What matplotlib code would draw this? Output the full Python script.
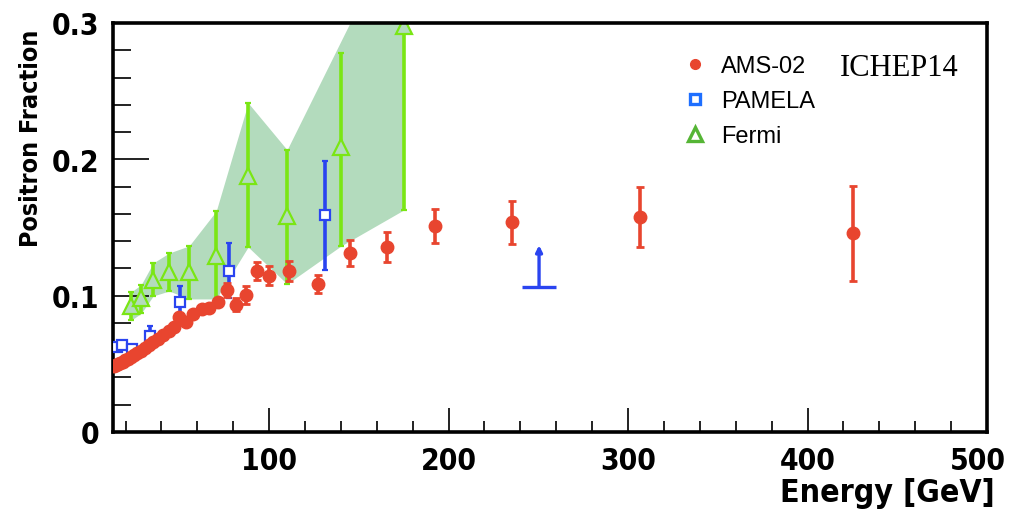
import matplotlib
matplotlib.use('Agg')
import matplotlib.pyplot as plt
from matplotlib import font_manager
from matplotlib.font_manager import FontProperties
from matplotlib.lines import Line2D
from matplotlib.ticker import MultipleLocator, FixedLocator
from matplotlib.transforms import ScaledTranslation

# look for a narrow/condensed bold sans (ROOT uses Helvetica bold condensed-ish)
narrow_path = None
for f in font_manager.fontManager.ttflist:
    narrowish = ('Narrow' in f.name or 'Condensed' in f.name
                 or 'condensed' in str(f.stretch))
    if narrowish and f.weight in ('bold', 700, 'semibold', 600) and 'Mono' not in f.name \
            and 'Serif' not in f.name:
        narrow_path = f.fname
        break

if narrow_path:
    bold_font = dict(fname=narrow_path)
    tick_size, ylab_size, xlab_size = 21.5, 18, 23
else:
    bold_font = dict(family='Liberation Sans', weight='bold')
    tick_size, ylab_size, xlab_size = 20, 17, 21

# AMS-02 positron fraction
ams_e = [13.5, 14.6, 15.8, 17.0, 18.3, 19.7, 21.2, 22.8, 24.6, 26.5, 28.5, 30.7,
         33.0, 35.5, 38.2, 41.0, 44.0, 46.8, 49.9, 53.8, 57.7, 62.7, 66.6, 71.6,
         76.6, 81.6, 87.2, 93.3, 100.0, 111.0, 127.3, 145.1, 165.7, 192.5, 235.4,
         306.7, 425.3]
ams_v = [0.0484, 0.0491, 0.0499, 0.0507, 0.0516, 0.0526, 0.0537, 0.0548, 0.0562,
         0.0578, 0.0595, 0.0614, 0.0636, 0.0660, 0.0685, 0.0712, 0.0740, 0.0768,
         0.0840, 0.0807, 0.0866, 0.0900, 0.0910, 0.0954, 0.1040, 0.0935, 0.1005,
         0.1180, 0.1145, 0.1180, 0.1086, 0.1310, 0.1360, 0.1510, 0.1540, 0.1580,
         0.1460]
ams_err_lo = [0.001, 0.001, 0.001, 0.001, 0.001, 0.001, 0.001, 0.001, 0.0012,
              0.0012, 0.0012, 0.0013, 0.0013, 0.0014, 0.0015, 0.0016, 0.0017, 0.0018,
              0.002, 0.0022, 0.0025, 0.0027, 0.003, 0.0032, 0.005, 0.005, 0.0065,
              0.0066, 0.007, 0.0075, 0.0065, 0.0095, 0.011, 0.0125, 0.016, 0.0223,
              0.035]
ams_err_hi = [0.001, 0.001, 0.001, 0.001, 0.001, 0.001, 0.001, 0.001, 0.0012,
              0.0012, 0.0012, 0.0013, 0.0013, 0.0014, 0.0015, 0.0016, 0.0017, 0.0018,
              0.002, 0.0022, 0.0025, 0.0027, 0.003, 0.0032, 0.005, 0.005, 0.0065,
              0.0066, 0.007, 0.0075, 0.0065, 0.0095, 0.011, 0.0125, 0.0155, 0.022,
              0.0345]

# PAMELA
pam_e = [15.3, 18.1, 23.7, 33.7, 50.4, 77.7, 131.2]
pam_v = [0.0624, 0.0640, 0.0610, 0.0704, 0.0954, 0.1180, 0.1590]
pam_err_lo = [0.002, 0.002, 0.002, 0.004, 0.0088, 0.020, 0.040]
pam_err_hi = [0.002, 0.002, 0.002, 0.0076, 0.0116, 0.0207, 0.040]
# PAMELA lower limit
lim_e = [250.4]
lim_v = [0.1064]
lim_half_width = [9.5]
lim_arrow_to = [0.137]

# Fermi with its band
fermi_e = [23.1, 28.7, 35.4, 44.3, 55.4, 70.5, 88.3, 110.0, 140.1, 175.2]
fermi_v = [0.0924, 0.0980, 0.1115, 0.1174, 0.1174, 0.1290, 0.1878, 0.1585, 0.2090, 0.2980]
fermi_hi = [0.1027, 0.1080, 0.1240, 0.1313, 0.1365, 0.1620, 0.2414, 0.2070, 0.2780, 0.3800]
fermi_lo = [0.0820, 0.0870, 0.0998, 0.1034, 0.0976, 0.0976, 0.1357, 0.1086, 0.1365, 0.1630]
band_hi = [0.1027, 0.1080, 0.1240, 0.1313, 0.1365, 0.1620, 0.2414, 0.2070, 0.2870, 0.3800]

red = '#e8452f'
blue = '#2a44f0'
lime = '#7ae614'
band = '#b3dbbd'

fig = plt.figure(figsize=(10.1, 5.1), dpi=100)
ax = fig.add_axes([113 / 1010, 77 / 510, 874 / 1010, 409 / 510])

ax.fill_between(fermi_e, fermi_lo, band_hi, color=band, lw=0, zorder=1)

f_lo = [v - l for v, l in zip(fermi_v, fermi_lo)]
f_hi = [h - v for v, h in zip(fermi_v, fermi_hi)]
ax.errorbar(fermi_e, fermi_v, yerr=[f_lo, f_hi], fmt='^', color=lime, ms=11,
            mfc=band, mec=lime, mew=1.6, elinewidth=2.6, capsize=2.5,
            capthick=2, zorder=2)

ax.errorbar(pam_e, pam_v, yerr=[pam_err_lo, pam_err_hi], fmt='s', color=blue, ms=6.5,
            mfc='white', mec=blue, mew=1.6, elinewidth=2.6, capsize=2.5,
            capthick=2, zorder=3)
ax.errorbar(lim_e, lim_v, xerr=lim_half_width, fmt='none', ecolor=blue,
            elinewidth=2.4, capsize=0, zorder=3)
for e, v, t in zip(lim_e, lim_v, lim_arrow_to):
    ax.annotate('', xy=(e, t), xytext=(e, v),
                arrowprops=dict(arrowstyle='-|>', color=blue, lw=2.4,
                                mutation_scale=9, shrinkA=0, shrinkB=0),
                zorder=3)

ax.errorbar(ams_e, ams_v, yerr=[ams_err_lo, ams_err_hi], fmt='o', color=red,
            ms=9, mec=red, elinewidth=2.6, capsize=3, capthick=2, zorder=4)

ax.set_xlim(13, 500)
ax.set_ylim(0, 0.3)

ax.xaxis.set_major_locator(FixedLocator([100, 200, 300, 400, 500]))
ax.xaxis.set_minor_locator(MultipleLocator(20))
ax.yaxis.set_major_locator(FixedLocator([0, 0.1, 0.2, 0.3]))
ax.yaxis.set_minor_locator(MultipleLocator(0.02))
ax.set_yticklabels(['0', '0.1', '0.2', '0.3'])

ax.tick_params(axis='both', which='both', direction='in', top=False, right=False,
               color='#222222', width=1.4)
ax.tick_params(axis='x', which='major', length=17, pad=10)
ax.tick_params(axis='x', which='minor', length=8)
ax.tick_params(axis='y', which='major', length=26, pad=10)
ax.tick_params(axis='y', which='minor', length=13)
tick_fp = FontProperties(size=tick_size, **bold_font)
for lab in ax.get_xticklabels() + ax.get_yticklabels():
    lab.set_fontproperties(tick_fp)
# last x label sits right at the figure edge, nudge it in a little
last = ax.get_xticklabels()[-1]
last.set_transform(last.get_transform() + ScaledTranslation(-9 / 100, 0, fig.dpi_scale_trans))

for s in ax.spines.values():
    s.set_linewidth(2.6)
    s.set_color('black')

fig.text(31 / 1010, 1 - 138 / 510, 'Positron Fraction', rotation=90,
         ha='center', va='center', fontproperties=FontProperties(size=ylab_size, **bold_font))
fig.text(995 / 1010, 1 - 494 / 510, 'Energy [GeV]', ha='right', va='center',
         fontproperties=FontProperties(size=xlab_size, **bold_font))
fig.text(840 / 1010, 1 - 68 / 510, 'ICHEP14', ha='left', va='center',
         fontsize=22, family='Liberation Serif')

handles = [
    Line2D([], [], ls='none', marker='o', color=red, ms=7),
    Line2D([], [], ls='none', marker='s', mfc='white', mec='#1e6fff', mew=2.4, ms=7),
    Line2D([], [], ls='none', marker='^', mfc='white', mec='#55b535', mew=2.4, ms=10),
]
ax.legend(handles, ['AMS-02', 'PAMELA', 'Fermi'], loc='upper left',
          bbox_to_anchor=(683 / 1010, 1 - 56 / 510), bbox_transform=fig.transFigure,
          frameon=False, prop={'family': 'Liberation Sans', 'size': 17},
          handlelength=1.0, handletextpad=0.6, labelspacing=0.55,
          borderpad=0, borderaxespad=0)

fig.savefig('out.png', dpi=100)
